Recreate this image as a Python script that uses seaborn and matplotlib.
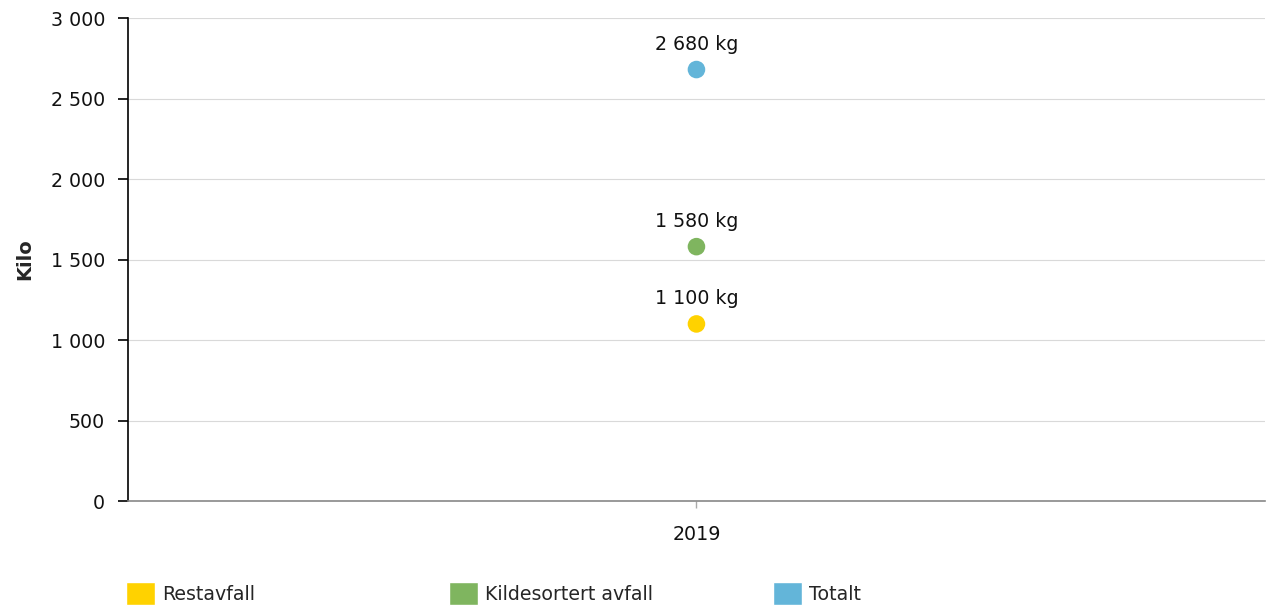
import pandas as pd
import matplotlib.pyplot as plt
from matplotlib.patches import Patch
from matplotlib.ticker import FuncFormatter
import seaborn as sns

sns.set_style("white")
plt.rcParams['font.family'] = ['DejaVu Sans']

years = ["2019"]
series = ["Restavfall", "Kildesortert avfall", "Totalt"]
values = [1100, 1580, 2680]
colors = ["#FFD200", "#7FB55F", "#63B5D9"]

df = pd.DataFrame({
  "year": years * len(series),
  "series": series,
  "kilo": values,
})

def spaced(v):
  return f"{v:,.0f}".replace(",", " ")

fig = plt.figure(figsize=(12.68, 6.09), dpi=100)
ax = fig.add_axes([0.1009, 0.1773, 0.8967, 0.7931])

sns.scatterplot(data=df, x="year", y="kilo", hue="series", palette=colors,
                s=160, linewidth=0, legend=False, ax=ax, zorder=3)

# value labels above each point
for _, row in df.iterrows():
  ax.annotate(f"{spaced(row['kilo'])} kg", (0, row["kilo"]), xytext=(0, 11.5),
              textcoords="offset points", ha="center", va="bottom", fontsize=13.7, color="#111111")

ax.set_xlim(-0.5, 0.5)
ax.set_ylim(0, 3000)
ax.set_yticks(range(0, 3001, 500))
ax.yaxis.set_major_formatter(FuncFormatter(lambda v, p: spaced(v)))
ax.grid(axis="y", color="#d9d9d9", linewidth=0.8)
ax.set_axisbelow(True)

for s in ["top", "right"]:
  ax.spines[s].set_visible(False)
ax.spines["left"].set_color("black")
ax.spines["left"].set_linewidth(1.2)
ax.spines["bottom"].set_color("#888888")
ax.spines["bottom"].set_linewidth(1.2)

ax.tick_params(axis="y", left=True, length=7, width=1.2, color="black",
               labelsize=13.7, labelcolor="#111111", pad=9.5)
ax.tick_params(axis="x", bottom=True, length=5, width=1, color="#aaaaaa",
               labelsize=13.7, labelcolor="#111111", pad=12)

ax.set_xlabel("")
ax.set_ylabel("Kilo", fontweight="bold", fontsize=14, labelpad=12)

# legend, one block per series
xs = [0.0885, 0.3435, 0.599]
for name, col, x in zip(series, colors, xs):
  fig.legend(handles=[Patch(facecolor=col, label=name)], loc="lower left",
             bbox_to_anchor=(x, -0.016), frameon=False, fontsize=13.7,
             handlelength=1.55, handleheight=1.55, handletextpad=0.35, borderpad=0.2)

fig.savefig("out.png", dpi=100)
